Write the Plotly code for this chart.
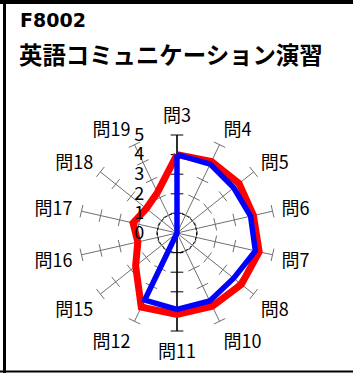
"""radar chart of F8002 questions"""
import plotly.graph_objects as go

# data
questions = ["問3", "問4", "問5", "問6", "問7", "問8", "問10", "問11",
             "問12", "問15", "問16", "問17", "問18", "問19"]
red_values = [4.0, 4.05, 4.05, 4.0, 4.3, 4.2, 4.15, 4.15, 4.2, 2.7, 2.05, 2.3, 2.0, 2.3]
blue_values = [4.0, 3.9, 3.7, 3.85, 4.1, 3.7, 3.85, 3.9, 3.8, 0, 0, 0, 0, 0]
radial_ticks = [0, 1, 2, 3, 4, 5]
title_code = "F8002"
title_name = "英語コミュニケーション演習"

FONT = "Noto Sans CJK JP"

n = len(questions)
angles = [i * 360 / n for i in range(n)]

fig = go.Figure()

# tick marks on each spoke
tr, tt, ta, tc = [], [], [], []
for a in angles:
    for v in radial_ticks[1:]:
        tr.append(v)
        tt.append(a)
        ta.append(a)
        tc.append("black" if a in (0, 180) else "#707070")
fig.add_trace(go.Scatterpolar(
    r=tr, theta=tt, mode="markers", hoverinfo="skip", showlegend=False,
    marker=dict(symbol="line-ew", size=9, angle=ta,
                line=dict(width=1, color=tc)),
))

# vertical axis (問3 - 問11)
fig.add_trace(go.Scatterpolar(
    r=[radial_ticks[-1], 0, radial_ticks[-1]], theta=[angles[0], 0, 180],
    mode="lines", line=dict(color="black", width=1.5),
    hoverinfo="skip", showlegend=False,
))

# dashed circle at 1
circ = list(range(0, 361, 3))
fig.add_trace(go.Scatterpolar(
    r=[1] * len(circ), theta=circ, mode="lines",
    line=dict(color="black", width=1, dash="3px,2px"),
    hoverinfo="skip", showlegend=False,
))

fig.add_trace(go.Scatterpolar(
    r=red_values + red_values[:1], theta=angles + angles[:1], mode="lines",
    line=dict(color="#ff0000", width=7), showlegend=False,
))
fig.add_trace(go.Scatterpolar(
    r=blue_values + blue_values[:1], theta=angles + angles[:1], mode="lines",
    line=dict(color="#0000ff", width=5.5), showlegend=False,
))

fig.update_layout(
    width=353, height=373,
    margin=dict(l=0, r=0, t=0, b=0),
    paper_bgcolor="white", plot_bgcolor="white",
    font=dict(family=FONT, size=17, color="black"),
    polar=dict(
        domain=dict(x=[79 / 353, 275 / 353], y=[42 / 373, 238 / 373]),
        bgcolor="white",
        angularaxis=dict(
            rotation=90, direction="clockwise",
            tickmode="array", tickvals=angles, ticktext=questions,
            showline=False, ticks="outside", ticklen=5,
            tickcolor="rgba(0,0,0,0)", showgrid=True,
            gridcolor="#707070", gridwidth=1,
            tickfont=dict(family=FONT, size=18),
        ),
        radialaxis=dict(
            range=[0, 5], angle=90, side="counterclockwise",
            tickmode="array", tickvals=radial_ticks,
            showline=False, showgrid=False,
            ticks="outside", ticklen=26, tickcolor="rgba(0,0,0,0)",
            tickangle=90,
            tickfont=dict(family=FONT, size=18),
        ),
    ),
    annotations=[
        dict(text=f"<b>{title_code}</b>", x=18 / 353, y=1 - 20 / 373,
             xref="paper", yref="paper", xanchor="left", yanchor="middle",
             showarrow=False, font=dict(family="DejaVu Sans", size=19)),
        dict(text=f"<b>{title_name}</b>", x=17 / 353, y=1 - 54 / 373,
             xref="paper", yref="paper", xanchor="left", yanchor="middle",
             showarrow=False, font=dict(family=FONT, size=23.4)),
    ],
    shapes=[
        dict(type="line", xref="paper", yref="paper", x0=0, x1=1,
             y0=1 - 2 / 373, y1=1 - 2 / 373, line=dict(color="black", width=4)),
        dict(type="line", xref="paper", yref="paper", x0=4.5 / 353, x1=4.5 / 353,
             y0=0, y1=1, line=dict(color="black", width=3)),
        dict(type="line", xref="paper", yref="paper", x0=0, x1=1,
             y0=1.5 / 373, y1=1.5 / 373, line=dict(color="black", width=2)),
    ],
)

fig.write_html("out.html", config={"displayModeBar": False},
               post_script="document.body.style.margin='0px';")
